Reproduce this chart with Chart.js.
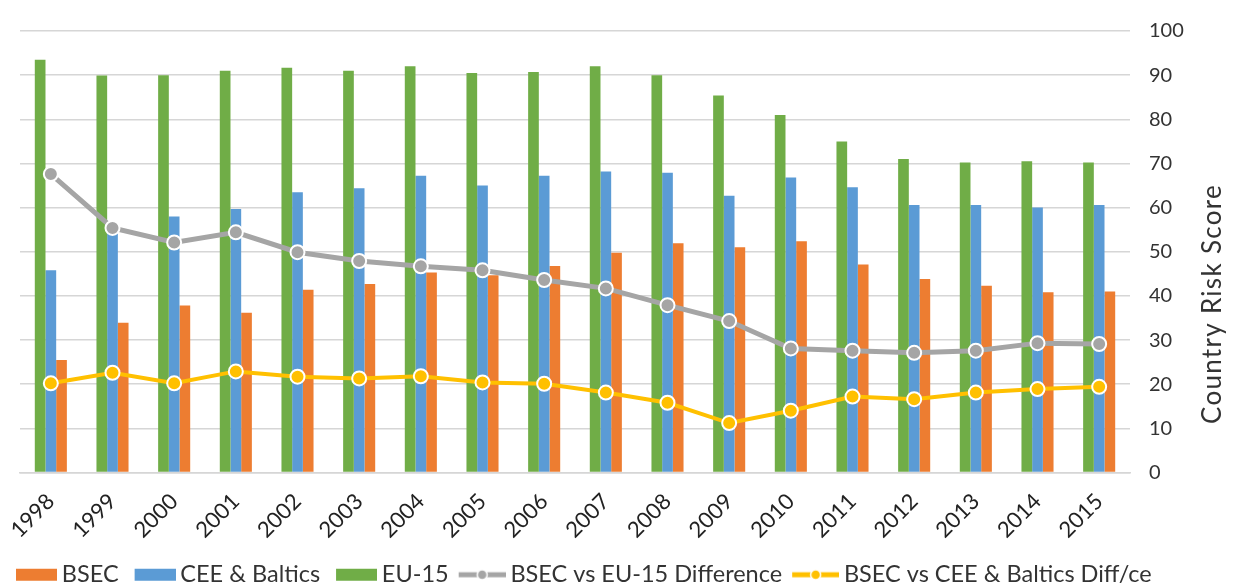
<!DOCTYPE html>
<html>
<head>
<meta charset="utf-8">
<title>Country Risk Score</title>
<script src="https://cdn.jsdelivr.net/npm/chart.js@4.4.1/dist/chart.umd.min.js"></script>
<style>
  html, body { margin: 0; padding: 0; background: #fff; }
</style>
</head>
<body>
<canvas id="chart" width="1238" height="585"></canvas>
<script>
// Country risk scores by region, 1998-2015
const years = ['1998', '1999', '2000', '2001', '2002', '2003', '2004', '2005', '2006',
  '2007', '2008', '2009', '2010', '2011', '2012', '2013', '2014', '2015'];

const bsec  = [25.5, 33.9, 37.8, 36.2, 41.4, 42.7, 45.3, 44.7, 46.8, 49.8, 51.9, 51.0, 52.4, 47.1, 43.8, 42.3, 40.8, 41.0];
const cee   = [45.8, 56.0, 58.0, 59.7, 63.5, 64.4, 67.2, 65.0, 67.2, 68.2, 67.9, 62.7, 66.8, 64.6, 60.6, 60.6, 60.0, 60.6];
const eu15  = [93.5, 89.9, 90.0, 91.0, 91.7, 91.0, 92.0, 90.5, 90.7, 92.0, 90.0, 85.4, 81.0, 75.0, 71.0, 70.2, 70.5, 70.2];
const diffEu  = [67.6, 55.4, 52.1, 54.4, 49.9, 47.9, 46.7, 45.8, 43.6, 41.7, 37.9, 34.3, 28.1, 27.6, 27.1, 27.6, 29.3, 29.1];
const diffCee = [20.2, 22.6, 20.2, 22.9, 21.7, 21.3, 21.8, 20.4, 20.1, 18.1, 15.8, 11.2, 14.0, 17.2, 16.6, 18.1, 18.9, 19.4];

const yTicks = [0, 10, 20, 30, 40, 50, 60, 70, 80, 90, 100];

const ORANGE = '#ED7D31';
const BLUE = '#5B9BD5';
const GREEN = '#70AD47';
const GREY = '#A5A5A5';
const GOLD = '#FFC000';
const FONT = 'Lato, "Open Sans", sans-serif';

// legend swatches: drawn in the right part of a 59px image that
// Chart.js centres on the 45px legend box
function swatch(color, kind) {
  const c = document.createElement('canvas');
  c.width = 59;
  c.height = 16;
  const g = c.getContext('2d');
  if (kind === 'bar') {
    g.fillStyle = color;
    g.fillRect(18, 2, 41, 12);
  } else {
    g.strokeStyle = color;
    g.lineWidth = 5;
    g.beginPath();
    g.moveTo(12, 8);
    g.lineTo(59, 8);
    g.stroke();
    g.beginPath();
    g.arc(35.5, 8, 5, 0, Math.PI * 2);
    g.fillStyle = color;
    g.fill();
    g.lineWidth = 1.5;
    g.strokeStyle = '#fff';
    g.stroke();
  }
  return c;
}

const swatches = [
  swatch(ORANGE, 'bar'),
  swatch(BLUE, 'bar'),
  swatch(GREEN, 'bar'),
  swatch(GREY, 'line'),
  swatch(GOLD, 'line')
];

// rotated axis title on the right
const sideTitle = {
  id: 'sideTitle',
  afterDraw(chart) {
    const ctx = chart.ctx;
    ctx.save();
    ctx.translate(1213, 304);
    ctx.rotate(-Math.PI / 2);
    ctx.font = '26px ' + FONT;
    ctx.letterSpacing = '1.3px';
    ctx.fillStyle = '#333';
    ctx.textAlign = 'center';
    ctx.textBaseline = 'middle';
    ctx.fillText('Country Risk Score', 0, 0);
    ctx.restore();
  }
};

const lineStyle = (color, width) => ({
  type: 'line',
  borderColor: color,
  backgroundColor: color,
  borderWidth: width,
  pointRadius: 7,
  pointBorderWidth: 2,
  pointBorderColor: '#fff',
  pointBackgroundColor: color,
  tension: 0,
  order: 0
});

const ctx = document.getElementById('chart').getContext('2d');
new Chart(ctx, {
  type: 'bar',
  data: {
    labels: years,
    datasets: [
      { label: 'BSEC', data: bsec, backgroundColor: ORANGE, order: 3 },
      { label: 'CEE & Baltics', data: cee, backgroundColor: BLUE, order: 2 },
      { label: 'EU-15', data: eu15, backgroundColor: GREEN, order: 1 },
      { label: 'BSEC vs EU-15 Difference', data: diffEu, ...lineStyle(GREY, 5) },
      { label: 'BSEC vs CEE & Baltics Diff/ce', data: diffCee, ...lineStyle(GOLD, 4) }
    ]
  },
  options: {
    responsive: false,
    animation: false,
    devicePixelRatio: 1,
    datasets: {
      bar: { categoryPercentage: 0.52, barPercentage: 1.0, borderWidth: 0 }
    },
    layout: { padding: { top: 24, left: 0, right: 0, bottom: 0 } },
    plugins: {
      tooltip: { enabled: false },
      legend: {
        position: 'bottom',
        align: 'start',
        maxHeight: 27,
        labels: {
          usePointStyle: true,
          pointStyleWidth: 45,
          padding: 5,
          color: '#333',
          font: { family: FONT, size: 23.5 },
          generateLabels: (chart) => chart.data.datasets.map((ds, i) => ({
            text: ds.label,
            pointStyle: swatches[i],
            fillStyle: 'transparent',
            strokeStyle: 'transparent',
            lineWidth: 0,
            hidden: false,
            datasetIndex: i,
            fontColor: '#333'
          }))
        }
      }
    },
    scales: {
      x: {
        grid: { display: false },
        border: { color: '#d6d6d6', width: 1.5 },
        ticks: {
          autoSkip: false,
          maxRotation: 45,
          minRotation: 45,
          padding: 8,
          color: '#222',
          font: { family: FONT, size: 22 }
        },
        afterFit: (scale) => { scale.height = 85.5; }
      },
      y: {
        position: 'right',
        min: 0,
        max: 100,
        afterBuildTicks: (scale) => { scale.ticks = yTicks.map(v => ({ value: v })); },
        grid: { color: '#d6d6d6', lineWidth: 1.5, drawTicks: false },
        border: { display: false },
        ticks: {
          padding: 19,
          color: '#333',
          font: { family: FONT, size: 20 }
        },
        afterFit: (scale) => { scale.width = 108; }
      },
      // empty strip left of the plot
      yGutter: {
        position: 'left',
        grid: { display: false },
        border: { display: false },
        ticks: { display: false },
        afterFit: (scale) => { scale.width = 20; }
      }
    }
  },
  plugins: [sideTitle]
});
</script>
</body>
</html>
